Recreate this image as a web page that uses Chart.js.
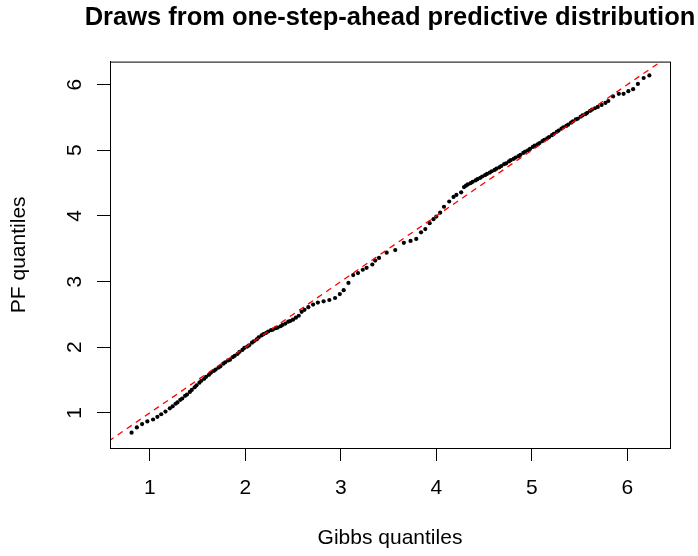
<!DOCTYPE html>
<html>
<head>
<meta charset="utf-8">
<script src="https://cdn.jsdelivr.net/npm/chart.js@4"></script>
<style>
  html, body { margin: 0; padding: 0; background: #fff; }
  #qq { display: block; }
</style>
</head>
<body>
<canvas id="qq" width="698" height="556"></canvas>
<script>
// quantiles (Gibbs on x, PF on y)
const gibbsQ = [
  0.81, 0.865, 0.92, 0.975, 1.035, 1.08, 1.12, 1.165, 1.21,
  1.24, 1.27, 1.29, 1.32, 1.34, 1.37, 1.39, 1.42, 1.44, 1.47, 1.49, 1.52, 1.54, 1.57, 1.59,
  1.62, 1.64, 1.67, 1.69, 1.72, 1.74, 1.77, 1.79, 1.82, 1.84, 1.87, 1.89, 1.92, 1.94, 1.97,
  1.99, 2.02, 2.04, 2.07, 2.09, 2.12, 2.14, 2.17, 2.19, 2.22, 2.24, 2.27, 2.29, 2.32, 2.34,
  2.37, 2.39, 2.42, 2.45, 2.47, 2.50, 2.53, 2.56, 2.59, 2.62,
  2.66, 2.71, 2.76, 2.82, 2.88, 2.94, 2.99, 3.03, 3.08, 3.13, 3.18, 3.23, 3.27, 3.33, 3.36,
  3.40, 3.48, 3.57,
  3.66, 3.73, 3.79, 3.84, 3.885, 3.93, 3.97, 4.00, 4.04, 4.08, 4.135, 4.18, 4.21, 4.26, 4.29,
  4.31, 4.33, 4.36, 4.38, 4.41, 4.43, 4.46, 4.48, 4.51, 4.53, 4.56, 4.58, 4.61, 4.63, 4.66,
  4.68, 4.71, 4.73, 4.76, 4.78, 4.81, 4.83, 4.86, 4.88, 4.91, 4.93, 4.96, 4.98, 5.01, 5.03,
  5.06, 5.08, 5.11, 5.13, 5.16, 5.18, 5.21, 5.23, 5.26, 5.28, 5.31, 5.33, 5.36, 5.38, 5.41,
  5.43, 5.46, 5.48, 5.51, 5.53, 5.56, 5.58, 5.61, 5.63, 5.66, 5.69, 5.73, 5.77, 5.80, 5.85,
  5.91, 5.96, 6.01, 6.06, 6.11, 6.17, 6.23
];
const pfQ = [
  0.70, 0.78, 0.83, 0.87, 0.90, 0.94, 0.98, 1.02, 1.07,
  1.10, 1.14, 1.16, 1.20, 1.22, 1.26, 1.28, 1.32, 1.35, 1.39, 1.42, 1.46, 1.49, 1.52, 1.55,
  1.58, 1.61, 1.64, 1.66, 1.69, 1.71, 1.75, 1.77, 1.80, 1.81, 1.85, 1.87, 1.90, 1.93, 1.96,
  1.99, 2.01, 2.03, 2.07, 2.09, 2.12, 2.15, 2.18, 2.20, 2.22, 2.24, 2.26, 2.27, 2.29, 2.30,
  2.32, 2.34, 2.36, 2.39, 2.40, 2.42, 2.45, 2.48, 2.54, 2.57,
  2.61, 2.65, 2.68, 2.70, 2.72, 2.75, 2.81, 2.87, 2.98, 3.10, 3.13, 3.18, 3.21, 3.26, 3.32,
  3.36, 3.44, 3.48,
  3.59, 3.62, 3.65, 3.75, 3.80, 3.89, 3.95, 3.99, 4.05, 4.14, 4.22, 4.29, 4.32, 4.36, 4.44,
  4.46, 4.48, 4.50, 4.52, 4.54, 4.56, 4.58, 4.60, 4.62, 4.64, 4.66, 4.68, 4.70, 4.72, 4.74,
  4.76, 4.79, 4.80, 4.83, 4.85, 4.87, 4.89, 4.91, 4.93, 4.96, 4.98, 5.00, 5.02, 5.05, 5.07,
  5.09, 5.11, 5.14, 5.16, 5.18, 5.20, 5.23, 5.25, 5.28, 5.30, 5.33, 5.35, 5.37, 5.39, 5.42,
  5.44, 5.47, 5.48, 5.51, 5.53, 5.55, 5.57, 5.60, 5.62, 5.64, 5.66, 5.69, 5.72, 5.75, 5.82,
  5.86, 5.86, 5.90, 5.93, 6.01, 6.10, 6.14
];
const xTicks = [1, 2, 3, 4, 5, 6];
const yTicks = [1, 2, 3, 4, 5, 6];
const refLine = [0, 7];   // y = x

Chart.defaults.font.family = "'Liberation Sans', Arial, sans-serif";
Chart.defaults.color = '#000';

const points = gibbsQ.map((g, i) => ({ x: g, y: pfQ[i] }));

// R style box round the plot region
const boxPlugin = {
  id: 'box',
  afterLayout(chart) {
    // centre the title on the plot region without squeezing it
    const t = chart.titleBlock;
    const a = chart.chartArea;
    if (t) {
      const mid = (a.left + a.right) / 2;
      t.left = mid - 390;
      t.right = mid + 390;
      t.width = 780;
    }
  },
  afterDraw(chart) {
    const a = chart.chartArea;
    const c = chart.ctx;
    c.save();
    c.strokeStyle = '#000';
    c.lineWidth = 1;
    c.strokeRect(a.left + 0.5, a.top + 0.5, a.right - a.left, a.bottom - a.top);
    c.restore();
  }
};

const axisGrid = { drawOnChartArea: false, drawTicks: true, tickLength: 13, color: '#000', lineWidth: 1 };

new Chart(document.getElementById('qq').getContext('2d'), {
  type: 'scatter',
  data: {
    datasets: [
      {
        type: 'line',
        data: refLine.map(v => ({ x: v, y: v })),
        borderColor: '#ff0000',
        borderWidth: 1.3,
        borderDash: [6, 5],
        pointRadius: 0,
        fill: false
      },
      {
        data: points,
        pointRadius: 2.1,
        pointBackgroundColor: '#000',
        pointBorderWidth: 0
      }
    ]
  },
  options: {
    responsive: false,
    devicePixelRatio: 1,
    animation: false,
    layout: { padding: { left: 0, right: 28, top: 0, bottom: 0 } },
    plugins: {
      legend: { display: false },
      tooltip: { enabled: false },
      title: {
        display: true,
        fullSize: false,
        text: 'Draws from one-step-ahead predictive distribution',
        font: { size: 25.5, weight: 'bold' },
        color: '#000',
        padding: { top: 3, bottom: 28 }
      }
    },
    scales: {
      x: {
        type: 'linear',
        min: 0.584,
        max: 6.446,
        afterBuildTicks: s => { s.ticks = xTicks.map(v => ({ value: v })); },
        afterFit: s => { s.height = 108; },
        grid: axisGrid,
        border: { display: true, color: '#000' },
        ticks: { font: { size: 21 }, padding: 15, maxRotation: 0 },
        title: { display: true, text: 'Gibbs quantiles', font: { size: 21 }, padding: { top: 5, bottom: 5 } }
      },
      y: {
        type: 'linear',
        min: 0.466,
        max: 6.35,
        afterBuildTicks: s => { s.ticks = yTicks.map(v => ({ value: v })); },
        afterFit: s => { s.width = 110; },
        grid: axisGrid,
        border: { display: true, color: '#000' },
        ticks: { font: { size: 21 }, padding: 16, minRotation: 90, maxRotation: 90, crossAlign: 'center' },
        title: { display: true, text: 'PF quantiles', font: { size: 21 }, padding: { top: 7, bottom: 7 } }
      }
    }
  },
  plugins: [boxPlugin]
});
</script>
</body>
</html>
